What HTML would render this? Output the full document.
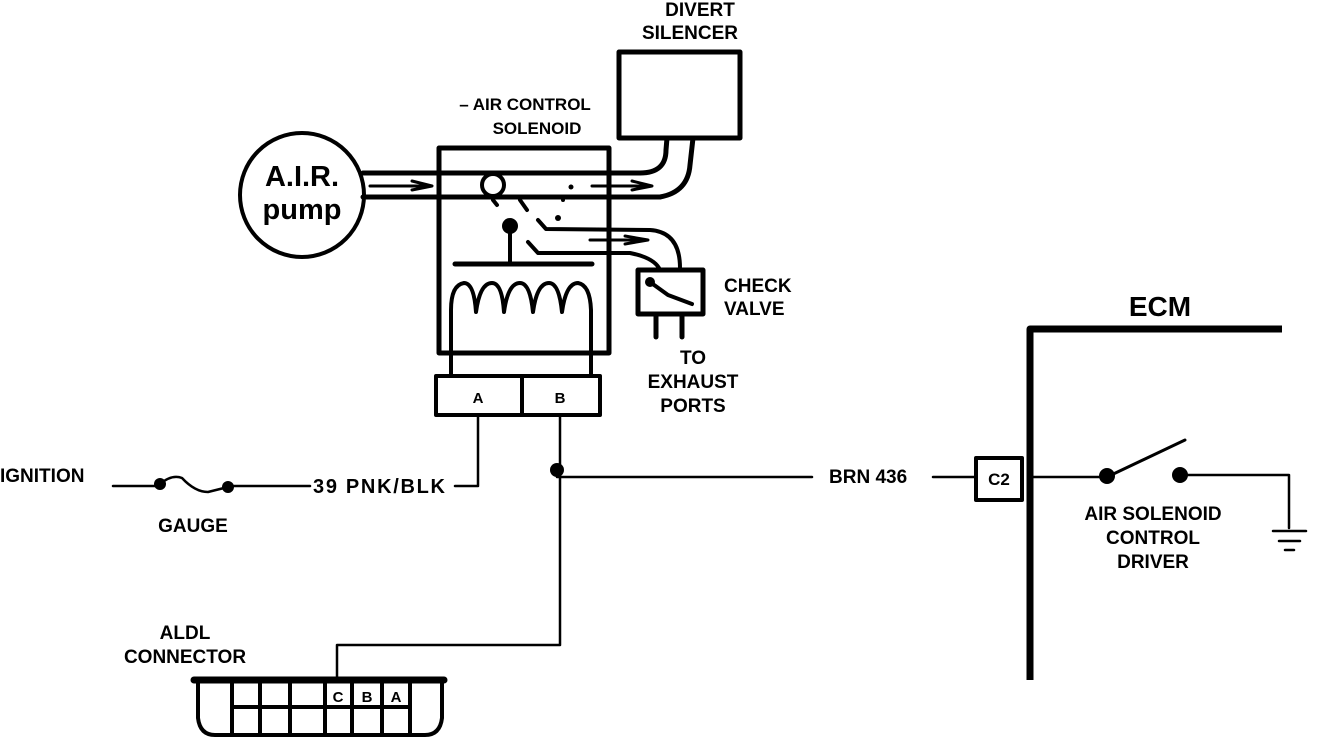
<!DOCTYPE html>
<html><head><meta charset="utf-8"><style>
html,body{margin:0;padding:0;background:#fff;}
svg{display:block;}
text{font-family:"Liberation Sans",sans-serif;font-weight:bold;fill:#000;}
</style></head><body>
<svg width="1328" height="740" viewBox="0 0 1328 740" xmlns="http://www.w3.org/2000/svg">
<g fill="none" stroke="#000" stroke-linecap="round" stroke-linejoin="round">
<circle cx="302" cy="195" r="62" stroke-width="4"/>
<line x1="363" y1="173" x2="640" y2="173" stroke-width="5"/>
<line x1="363" y1="197" x2="660" y2="197" stroke-width="5"/>
<line x1="370" y1="186" x2="430" y2="186" stroke-width="3"/>
<path d="M412 181 L432 186 L412 190" stroke-width="3"/>
<line x1="592" y1="186" x2="650" y2="186" stroke-width="3"/>
<path d="M632 181 L652 186 L632 190" stroke-width="3"/>
<path d="M640 173 Q666 173 666 150 L667 138" stroke-width="5"/>
<path d="M660 197 Q688 192 690 165 L693 138" stroke-width="5"/>
<rect x="619" y="52" width="121" height="86" stroke-width="5"/>
<rect x="439" y="148" width="170" height="205" stroke-width="5"/>
<circle cx="493" cy="185" r="11" stroke-width="4" fill="#fff"/>
<line x1="493" y1="200" x2="497" y2="205" stroke-width="4"/>
<line x1="520" y1="200" x2="527" y2="210" stroke-width="4"/>
<path d="M538 220 L546 229 L650 230 Q680 232 680 268" stroke-width="4"/>
<path d="M528 242 L538 253 L630 253 Q655 258 660 270" stroke-width="4"/>
<line x1="590" y1="240" x2="640" y2="240" stroke-width="3"/>
<path d="M625 236 L648 240 L625 244" stroke-width="3"/>
<line x1="510" y1="226" x2="510" y2="264" stroke-width="4"/>
<line x1="455" y1="264" x2="592" y2="264" stroke-width="5"/>
<path d="M451 352 L451 310 Q451 285 464 283 Q474 283 476 312 Q480 283 492 283 Q502 283 504 312 Q508 283 520 283 Q530 283 533 312 Q537 283 549 283 Q559 283 562 312 Q566 283 578 283 Q590 285 591 310 L591 352" stroke-width="4"/>
<rect x="436" y="376" width="164" height="39" stroke-width="4"/>
<line x1="522" y1="376" x2="522" y2="415" stroke-width="4"/>
<line x1="451" y1="353" x2="451" y2="376" stroke-width="4"/>
<line x1="591" y1="353" x2="591" y2="376" stroke-width="4"/>
<rect x="638" y="270" width="65" height="44" stroke-width="5"/>
<path d="M650 282 L668 295 L692 304" stroke-width="4"/>
<line x1="656" y1="314" x2="656" y2="337" stroke-width="5"/>
<line x1="682" y1="314" x2="682" y2="337" stroke-width="5"/>
<polyline points="478,415 478,486 455,486" stroke-width="2.5"/>
<line x1="113" y1="486" x2="160" y2="486" stroke-width="2.5"/>
<line x1="228" y1="486" x2="310" y2="486" stroke-width="2.5"/>
<path d="M160 484 Q172 474 182 478 Q195 492 208 492 L228 487" stroke-width="2.5"/>
<polyline points="560,415 560,645 337,645 337,678" stroke-width="2.5"/>
<line x1="557" y1="477" x2="812" y2="477" stroke-width="2.5"/>
<line x1="933" y1="477" x2="975" y2="477" stroke-width="2.5"/>
<rect x="976" y="458" width="46" height="42" stroke-width="4"/>
<polyline points="1030,680 1030,329 1282,329" stroke-width="7" stroke-linecap="butt"/>
<line x1="1030" y1="477" x2="1107" y2="477" stroke-width="2.5"/>
<line x1="1107" y1="477" x2="1185" y2="440" stroke-width="3"/>
<polyline points="1180,475 1289,475 1289,528" stroke-width="2.5"/>
<line x1="1273" y1="531" x2="1306" y2="531" stroke-width="2.5"/>
<line x1="1279" y1="541" x2="1300" y2="541" stroke-width="2.5"/>
<line x1="1285" y1="550" x2="1294" y2="550" stroke-width="2.5"/>
<path d="M194 680 L444 680" stroke-width="7"/>
<path d="M198 680 L198 718 Q200 735 215 735 L425 735 Q440 735 442 718 L442 680" stroke-width="4"/>
<path d="M232 680 L232 735 M260 680 L260 735 M290 680 L290 735 M325 680 L325 735 M352 680 L352 735 M382 680 L382 735 M410 680 L410 735 M232 707 L410 707" stroke-width="4"/>
</g>
<g fill="#000">
<circle cx="510" cy="226" r="8"/>
<circle cx="557" cy="470" r="7"/>
<circle cx="160" cy="484" r="6"/>
<circle cx="228" cy="487" r="6"/>
<circle cx="1107" cy="476" r="8"/>
<circle cx="1180" cy="475" r="8"/>
<circle cx="650" cy="282" r="5"/>
<circle cx="571" cy="187" r="2.5"/><circle cx="563" cy="200" r="2"/><circle cx="558" cy="218" r="3"/>
</g>
<text x="302" y="186" font-size="29" text-anchor="middle">A.I.R.</text>
<text x="302" y="219" font-size="29" text-anchor="middle">pump</text>
<text x="525" y="110" font-size="17" text-anchor="middle">– AIR CONTROL</text>
<text x="537" y="134" font-size="17" text-anchor="middle">SOLENOID</text>
<text x="700" y="16" font-size="19" text-anchor="middle">DIVERT</text>
<text x="690" y="39" font-size="19" text-anchor="middle">SILENCER</text>
<text x="724" y="292" font-size="19">CHECK</text>
<text x="724" y="315" font-size="19">VALVE</text>
<text x="693" y="364" font-size="19" text-anchor="middle">TO</text>
<text x="693" y="388" font-size="19" text-anchor="middle">EXHAUST</text>
<text x="693" y="412" font-size="19" text-anchor="middle">PORTS</text>
<text x="478" y="403" font-size="15" text-anchor="middle">A</text>
<text x="560" y="403" font-size="15" text-anchor="middle">B</text>
<text x="0" y="482" font-size="19">IGNITION</text>
<text x="313" y="493" font-size="20" textLength="132">39 PNK/BLK</text>
<text x="193" y="532" font-size="19" text-anchor="middle">GAUGE</text>
<text x="829" y="483" font-size="19">BRN 436</text>
<text x="999" y="485" font-size="17" text-anchor="middle">C2</text>
<text x="1160" y="316" font-size="28" text-anchor="middle">ECM</text>
<text x="1153" y="520" font-size="19" text-anchor="middle">AIR SOLENOID</text>
<text x="1153" y="544" font-size="19" text-anchor="middle">CONTROL</text>
<text x="1153" y="568" font-size="19" text-anchor="middle">DRIVER</text>
<text x="185" y="639" font-size="19" text-anchor="middle">ALDL</text>
<text x="185" y="663" font-size="19" text-anchor="middle">CONNECTOR</text>
<text x="338" y="702" font-size="15" text-anchor="middle">C</text>
<text x="367" y="702" font-size="15" text-anchor="middle">B</text>
<text x="396" y="702" font-size="15" text-anchor="middle">A</text>
</svg>
</body></html>
